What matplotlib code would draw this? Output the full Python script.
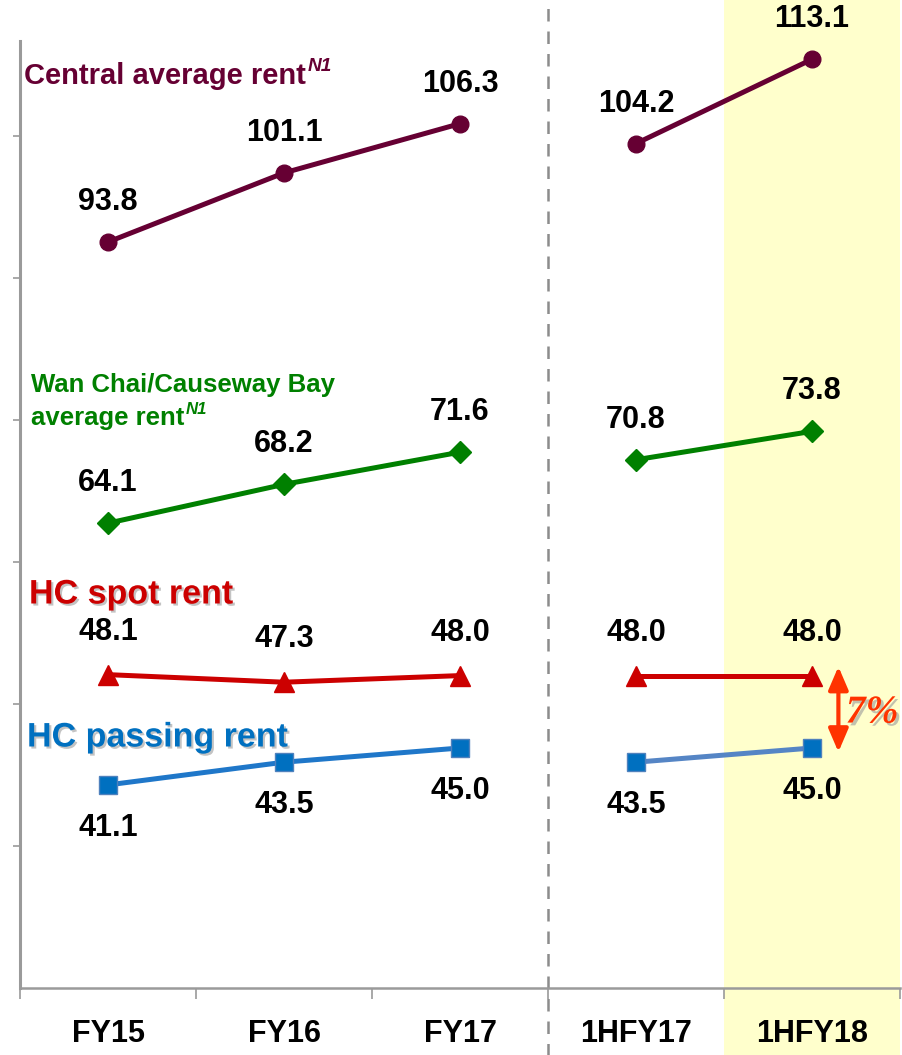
import matplotlib.pyplot as plt
import matplotlib.transforms as mtransforms
import matplotlib.patheffects as pe
from matplotlib.patches import Rectangle

# data
periods = ["FY15", "FY16", "FY17", "1HFY17", "1HFY18"]
central = [93.8, 101.1, 106.3, 104.2, 113.1]
wanchai = [64.1, 68.2, 71.6, 70.8, 73.8]
hc_spot = [48.1, 47.3, 48.0, 48.0, 48.0]
hc_passing = [41.1, 43.5, 45.0, 43.5, 45.0]
gap_label = "7%"

x = list(range(len(periods)))
full = slice(0, 3)   # annual figures
half = slice(3, 5)   # half-year figures

plt.rcParams['font.family'] = ['Liberation Sans', 'DejaVu Sans']

fig = plt.figure(figsize=(9.03, 10.55), dpi=100)
ax = fig.add_axes([20 / 903, 67 / 1055, 880 / 903, 988 / 1055])
ax.set_xlim(-0.5, 4.5)
ax.set_ylim(15, 15 + 988 / 9.467)

# passing rent is drawn shifted down a little, as in the original slide
pass_tr = mtransforms.offset_copy(ax.transData, fig=fig, y=-44, units='dots')

# highlight of latest period + divider
blend = mtransforms.blended_transform_factory(ax.transData, ax.transAxes)
ax.add_patch(Rectangle((3.5, -0.08), 1.0, 1.08, transform=blend, facecolor="#FFFFCC",
                       edgecolor="none", clip_on=False, zorder=0))
ax.plot([2.5, 2.5], [-0.08, 1.0], transform=blend, color="#8C8C8C", lw=1.8,
        ls=(0, (5, 4)), clip_on=False, zorder=1)

lw = 3.6
styles = [
    (central, "#660033", "o", 12, 40),
    (wanchai, "#008000", "D", 11, 40),
    (hc_spot, "#CC0000", "^", 15, 43),
]
for vals, col, mk, ms, off in styles:
    ax.plot(x[full], vals[full], color=col, lw=lw, marker=mk, ms=ms, zorder=3)
    ax.plot(x[half], vals[half], color=col, lw=lw, marker=mk, ms=ms, zorder=3)
    for xi, v in zip(x, vals):
        ax.annotate(f"{v:.1f}", (xi, v), xytext=(0, off * 0.72), textcoords="offset points",
                    ha="center", va="center", fontsize=22, fontweight="bold", color="black")

ax.plot(x[full], hc_passing[full], color="#1F77C9", lw=lw, marker="s", ms=13,
        mfc="#0070C0", mec="#4F81BD", transform=pass_tr, zorder=3)
ax.plot(x[half], hc_passing[half], color="#5585C5", lw=lw, marker="s", ms=13,
        mfc="#0070C0", mec="#4F81BD", transform=pass_tr, zorder=3)
for xi, v in zip(x, hc_passing):
    ax.annotate(f"{v:.1f}", (xi, v), xycoords=pass_tr, xytext=(0, -43 * 0.72),
                textcoords="offset points", ha="center", va="center",
                fontsize=22, fontweight="bold", color="black")

# gap arrow between spot and passing rent
top_tr = mtransforms.offset_copy(ax.transData, fig=fig, y=9, units='dots')
bot_tr = mtransforms.offset_copy(pass_tr, fig=fig, y=-4, units='dots')
ax.annotate("", xy=(4.15, hc_spot[-1]), xycoords=top_tr,
            xytext=(4.15, hc_passing[-1]), textcoords=bot_tr,
            arrowprops=dict(arrowstyle="<|-|>,head_length=1.4,head_width=0.6",
                            color="#FF3300", lw=3, shrinkA=0, shrinkB=0))
ax.annotate(gap_label, (4.5, hc_spot[-1]), xytext=(-1, -27), textcoords="offset points",
            ha="right", va="center",
            fontsize=28.5, fontweight="bold", style="italic", color="#FF3300",
            family=["Liberation Serif", "DejaVu Serif"],
            path_effects=[pe.withSimplePatchShadow(offset=(2, -2), shadow_rgbFace="#999999", alpha=0.6)])

# series names
def series_name(xp, yp, txt, color, size, sup=False, shadow=False):
    effects = [pe.withSimplePatchShadow(offset=(1.5, -1.5), shadow_rgbFace="#888888", alpha=0.5)] if shadow else None
    t = fig.text(xp / 903, 1 - yp / 1055, txt, ha="left", va="center", fontsize=size,
                 fontweight="bold", color=color, path_effects=effects)
    if sup:
        ax.annotate("N1", xy=(1.0, 0.85), xycoords=t, xytext=(1, 0), textcoords="offset points",
                    ha="left", va="center", fontsize=size * 0.65, fontweight="bold",
                    style="italic", color=color, annotation_clip=False)
    return t

series_name(24, 76, "Central average rent", "#660033", 21, sup=True)
series_name(31, 385, "Wan Chai/Causeway Bay", "#008000", 18.5)
series_name(31, 418, "average rent", "#008000", 18.5, sup=True)
series_name(29, 595, "HC spot rent", "#CC0000", 24.5, shadow=True)
series_name(27, 738, "HC passing rent", "#0070C0", 24.5, shadow=True)

# axes styling
for s in ["top", "right"]:
    ax.spines[s].set_visible(False)
ax.spines["left"].set_bounds(15, 115)
ax.spines["left"].set_color("#9A9A9A")
ax.spines["left"].set_linewidth(2.2)
ax.spines["bottom"].set_color("#9A9A9A")
ax.spines["bottom"].set_linewidth(1.8)
ax.set_yticks([30, 45, 60, 75, 90, 105])
ax.set_yticklabels([])
ax.tick_params(axis="y", direction="out", length=5, width=1.2, color="#9A9A9A")

ax.set_xticks([i - 0.5 for i in range(len(periods) + 1)])
ax.set_xticklabels([])
ax.set_xticks(x, minor=True)
ax.set_xticklabels(periods, minor=True, fontsize=22, fontweight="bold")
ax.tick_params(axis="x", which="major", direction="out", length=8, width=1.2, color="#9A9A9A")
ax.tick_params(axis="x", which="minor", length=0, pad=22)

fig.savefig("out.png", dpi=100)
